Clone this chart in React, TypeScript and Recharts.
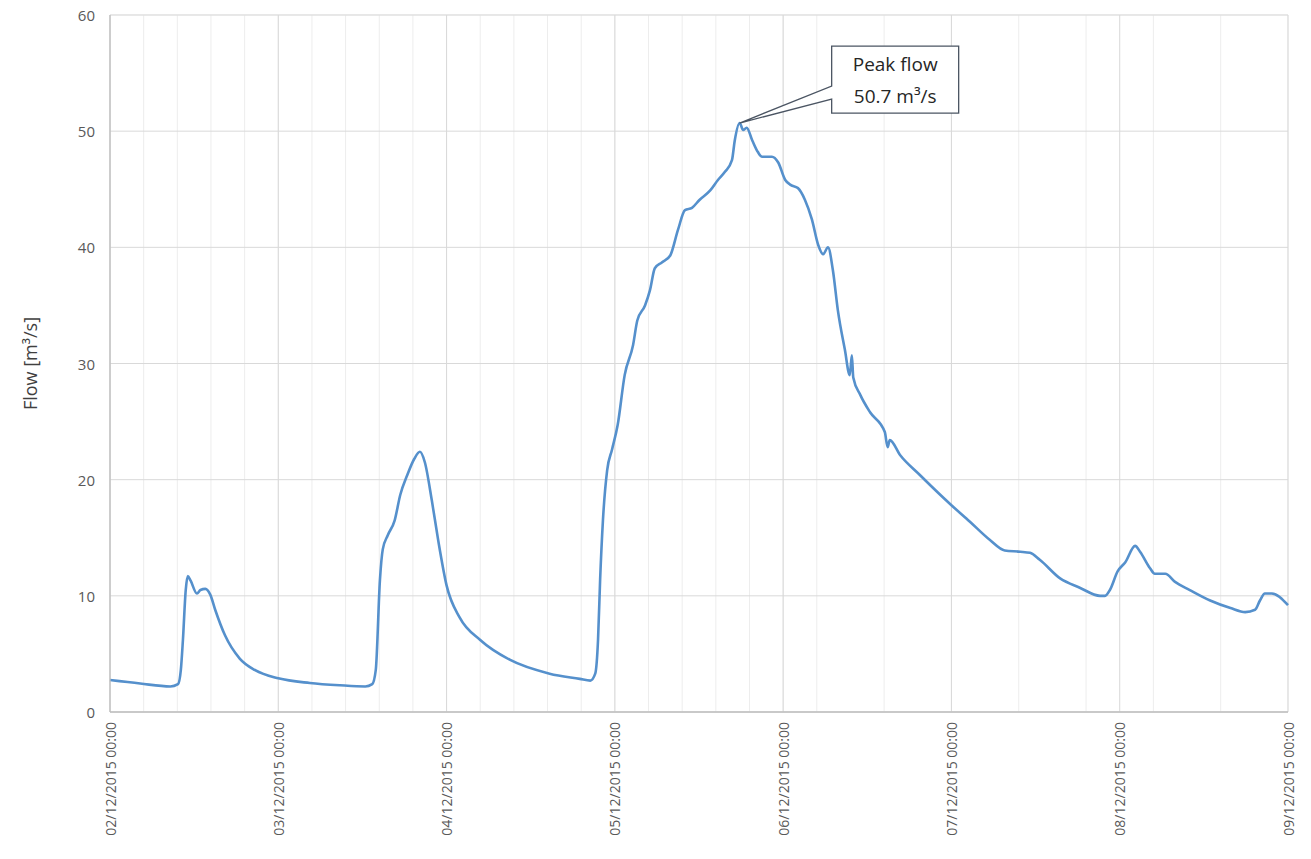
import React from 'react';
import {
  LineChart,
  Line,
  XAxis,
  YAxis,
  CartesianGrid,
  ReferenceDot,
} from 'recharts';

// Hours since 02/12/2015 00:00
const hours: number[] = [
  0, 4.3, 8.6, 9.7, 10.1, 10.4, 10.8, 11.1, 11.5, 12.4, 12.9, 13.6, 14.3, 15.0, 16.4, 18.5, 20.7,
  24, 28.5, 32.8, 36.4, 37.4, 37.9, 38.5, 38.9, 39.6, 40.6, 41.4, 42.4, 43.4, 44.2, 44.9, 45.9,
  46.8, 48.0, 49.9, 52.8, 57.0, 62.7, 67.0, 68.5, 69.2, 69.6, 69.9, 70.3, 70.9, 71.6, 72.4, 73.4,
  74.6, 75.2, 76.3, 77.0, 77.7, 78.7, 79.9, 81.0, 82.0, 83.0, 84.1, 85.6, 86.7, 87.7, 88.7, 89.1,
  89.8, 90.3, 90.8, 91.6, 92.4, 93.0, 94.4, 95.3, 96.3, 97.0, 98.1, 99.1, 100.1, 101.0, 101.7,
  102.4, 103.1, 103.8, 104.8, 105.5, 105.8, 106.0, 107.0, 108.4, 110.5, 110.9, 111.2, 112.7,
  115.5, 118.4, 120.0, 122.6, 125.5, 127.6, 129.8, 131.2, 132.6, 135.5, 138.3, 141.2, 141.9,
  142.6, 143.7, 144.8, 146.2, 146.9, 148.3, 149.0, 150.5, 151.9, 154.0, 156.9, 159.8, 161.9,
  163.3, 164.0, 164.7, 165.7, 168.0,
];

// Flow [m3/s]
const flows: number[] = [
  2.75, 2.45, 2.2, 2.4, 3.6, 6.2, 10.5, 11.7, 11.3, 10.2, 10.5, 10.6, 10.1, 8.8, 6.6, 4.6, 3.6,
  2.9, 2.5, 2.3, 2.2, 2.4, 3.6, 11.4, 14.0, 15.2, 16.5, 18.7, 20.4, 21.8, 22.4, 21.5, 18.2,
  14.8, 10.9, 8.1, 6.2, 4.5, 3.3, 2.85, 2.7, 3.3, 6.2, 11.4, 16.5, 20.8, 22.6, 24.7, 29.0,
  31.6, 33.7, 35.0, 36.3, 38.2, 38.7, 39.3, 41.5, 43.2, 43.4, 44.1, 44.9, 45.8, 46.5, 47.5, 49.2,
  50.7, 50.1, 50.3, 49.2, 48.2, 47.8, 47.8, 47.3, 45.8, 45.4, 45.1, 44.1, 42.4, 40.2, 39.4,
  40.0, 38.0, 34.6, 31.2, 29.0, 30.7, 28.8, 27.3, 25.8, 24.1, 22.8, 23.4, 22.1,
  20.4, 18.7, 17.8, 16.4, 14.8, 13.9, 13.8, 13.7, 13.1, 11.5, 10.7, 10.0, 10.0,
  10.5, 12.1, 12.9, 14.3, 13.8, 12.4, 11.9, 11.9, 11.2, 10.5, 9.6, 8.95, 8.6,
  8.8, 9.6, 10.2, 10.2, 9.2,
];

const dayTicks: number[] = [0, 24, 48, 72, 96, 120, 144, 168];
const dayLabels: string[] = [
  '02/12/2015 00:00',
  '03/12/2015 00:00',
  '04/12/2015 00:00',
  '05/12/2015 00:00',
  '06/12/2015 00:00',
  '07/12/2015 00:00',
  '08/12/2015 00:00',
  '09/12/2015 00:00',
];
const minorHourTicks: number[] = [
  0, 4.8, 9.6, 14.4, 19.2, 24, 28.8, 33.6, 38.4, 43.2, 48, 52.8, 57.6, 62.4, 67.2, 72, 76.8,
  81.6, 86.4, 91.2, 96, 100.8, 105.6, 110.4, 115.2, 120, 124.8, 129.6, 134.4, 139.2, 144, 148.8,
  153.6, 158.4, 163.2, 168,
];
const flowTicks: number[] = [0, 10, 20, 30, 40, 50, 60];
const minorFlowTicks: number[] = [0, 5, 10, 15, 20, 25, 30, 35, 40, 45, 50, 55, 60];

const peakHour = 89.8;
const peakFlow = 50.7;
const peakLines: string[] = ['Peak flow', '50.7 m³/s'];

const data = hours.map((h, i) => ({ h, flow: flows[i] }));

const FONT = '"Open Sans", "Segoe UI", sans-serif';

const XTick = (props: any) => {
  const { x, y, payload } = props;
  const idx = dayTicks.indexOf(payload.value);
  const label = idx >= 0 ? dayLabels[idx] : String(payload.value);
  return (
    <text
      x={x}
      y={y}
      transform={`rotate(-90, ${x}, ${y})`}
      textAnchor="end"
      dominantBaseline="central"
      fill="#595959"
      fontSize={14}
      fontFamily={FONT}
    >
      {label}
    </text>
  );
};

const YTick = (props: any) => {
  const { x, y, payload } = props;
  return (
    <text
      x={x}
      y={y}
      textAnchor="end"
      dominantBaseline="central"
      fill="#595959"
      fontSize={15}
      fontFamily={FONT}
    >
      {payload.value}
    </text>
  );
};

const YTitle = (props: any) => {
  const vb = props.viewBox || {};
  const cx = 30;
  const cy = (vb.y || 0) + (vb.height || 0) / 2;
  return (
    <text
      x={cx}
      y={cy}
      transform={`rotate(-90, ${cx}, ${cy})`}
      textAnchor="middle"
      dominantBaseline="central"
      fill="#404040"
      fontSize={18}
      fontFamily={FONT}
    >
      {props.value}
    </text>
  );
};

const Callout = (props: any) => {
  const { cx, cy } = props;
  if (cx == null || cy == null) return null;
  const left = cx + 92;
  const top = cy - 77;
  const w = 127;
  const hgt = 67;
  const pts = [
    [left, top],
    [left + w, top],
    [left + w, top + hgt],
    [left, top + hgt],
    [left, cy - 24],
    [cx, cy],
    [left, cy - 37],
    [left, top],
  ]
    .map((p) => p.join(','))
    .join(' ');
  return (
    <g>
      <polygon points={pts} fill="#ffffff" stroke="#4b5563" strokeWidth={1.3} />
      <text
        x={left + w / 2}
        y={cy - 52}
        textAnchor="middle"
        fill="#262626"
        fontSize={19}
        fontFamily={FONT}
      >
        {peakLines[0]}
      </text>
      <text
        x={left + w / 2}
        y={cy - 20}
        textAnchor="middle"
        fill="#262626"
        fontSize={19}
        fontFamily={FONT}
      >
        {peakLines[1]}
      </text>
    </g>
  );
};

export default function App() {
  return (
    <div
      style={{
        position: 'absolute',
        left: 0,
        top: 0,
        width: 1311,
        height: 859,
        background: '#ffffff',
        overflow: 'hidden',
      }}
    >
      <LineChart
        width={1311}
        height={859}
        data={data}
        margin={{ top: 15, right: 23, bottom: 17, left: 0 }}
      >
        <XAxis
          xAxisId="minor"
          dataKey="h"
          type="number"
          domain={[0, 168]}
          ticks={minorHourTicks}
          hide
        />
        <YAxis yAxisId="minor" type="number" domain={[0, 60]} ticks={minorFlowTicks} hide />
        <CartesianGrid
          xAxisId="minor"
          yAxisId="minor"
          stroke="#ededed"
          strokeWidth={1}
        />
        <CartesianGrid stroke="#d9d9d9" strokeWidth={1} />
        <XAxis
          dataKey="h"
          type="number"
          domain={[0, 168]}
          ticks={dayTicks}
          interval={0}
          height={130}
          tickLine={false}
          tickSize={6}
          tickMargin={4}
          axisLine={{ stroke: '#bfbfbf', strokeWidth: 1.3 }}
          tick={<XTick />}
        />
        <YAxis
          type="number"
          domain={[0, 60]}
          ticks={flowTicks}
          interval={0}
          width={110}
          tickLine={false}
          tickSize={6}
          tickMargin={9}
          axisLine={{ stroke: '#bfbfbf', strokeWidth: 1.3 }}
          tick={<YTick />}
          label={<YTitle value="Flow [m³/s]" />}
        />
        <Line
          type="monotone"
          dataKey="flow"
          stroke="#5590cc"
          strokeWidth={2.6}
          dot={false}
          activeDot={false}
          isAnimationActive={false}
        />
        <ReferenceDot x={peakHour} y={peakFlow} shape={<Callout />} isFront />
      </LineChart>
    </div>
  );
}
